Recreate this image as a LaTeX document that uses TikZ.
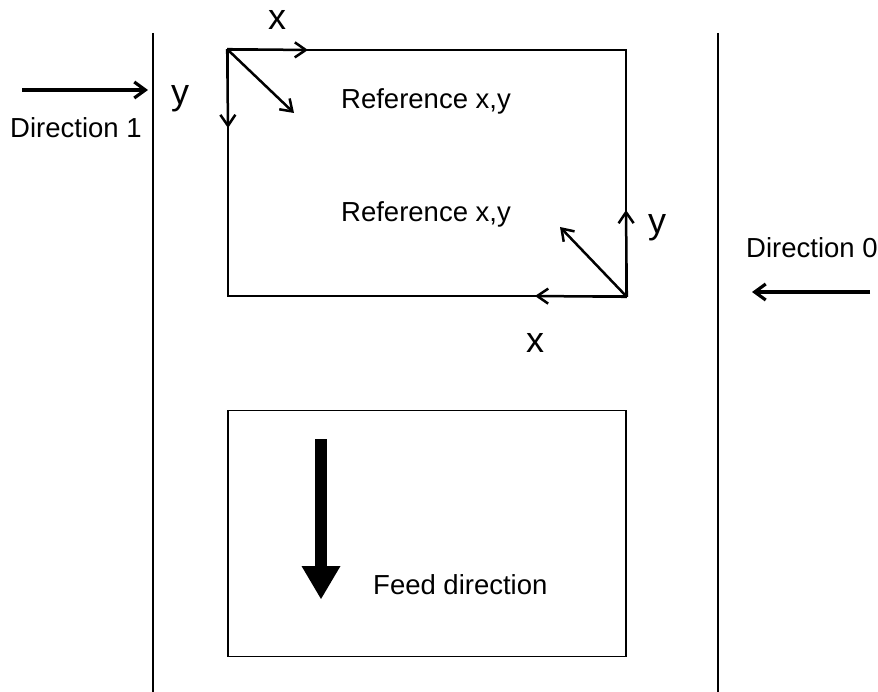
\documentclass[tikz,border=0pt]{standalone}
\usepackage{fontspec}
\setmainfont{Liberation Sans}
\usetikzlibrary{arrows.meta,positioning}
\def\txt#1{\fontsize{#1}{#1}\selectfont}

\begin{document}
\begin{tikzpicture}[x=1pt,y=-1pt,
				every node/.style={inner sep=0pt,anchor=base west},
				lbl/.style={font=\txt{27.5}},
				axlbl/.style={font=\txt{36}},
				sheet/.style={draw,line width=1.6pt,minimum width=398pt,minimum height=246pt,anchor=center},
				axis/.style={line width=2.5pt,-{Straight Barb[length=11pt,width=15pt,line width=2.5pt]}},
				dir/.style={line width=3.2pt,-{Straight Barb[length=11pt,width=16pt,line width=3.2pt]}}]
			\useasboundingbox (0,0) rectangle (878,692);
			\coordinate (railLt) at (153,33);  \coordinate (railLb) at (153,692);
			\coordinate (railRt) at (718,33);  \coordinate (railRb) at (718,692);
			\draw[line width=1.6pt] (railLt) -- (railLb);
			\draw[line width=1.6pt] (railRt) -- (railRb);
			\node[sheet] (ref) at (427,173) {};
			\node[sheet] (feed) at (427,533.5) {};
			% top left reference
			\coordinate (o1) at (ref.north west);
			\coordinate (x1) at (308,50);
			\coordinate (y1) at (228,128);
			\coordinate (d1) at (294,113);
			\draw[axis] (o1) -- (x1);
			\draw[axis] (o1) -- (y1);
			\draw[axis] (o1) -- (d1);
			\node[axlbl] (x1lbl) at (268,30) {x};
			\node[axlbl] (y1lbl) at (171,105) {y};
			% bottom right reference
			\coordinate (o0) at (ref.south east);
			\coordinate (x0) at (535,296);
			\coordinate (y0) at (626,210);
			\coordinate (d0) at (560,227);
			\draw[axis] (o0) -- (x0);
			\draw[axis] (o0) -- (y0);
			\draw[axis] (o0) -- (d0);
			\node[axlbl] (x0lbl) at (526,353) {x};
			\node[axlbl] (y0lbl) at (648,234) {y};
			\node[lbl] (refA) at (341,109) {Reference x,y};
			\node[lbl] (refB) at (341,222) {Reference x,y};
			% directions
			\coordinate (dir1s) at (22,90);  \coordinate (dir1e) at (148,90);
			\coordinate (dir0s) at (870,292); \coordinate (dir0e) at (752,292);
			\draw[dir] (dir1s) -- (dir1e);
			\draw[dir] (dir0s) -- (dir0e);
			\node[lbl] (dir1) at (10,138) {Direction 1};
			\node[lbl] (dir0) at (746,258) {Direction 0};
			% feed
			\coordinate (feedTop) at (321,439);
			\coordinate (feedTip) at (321,599);
			\draw[line width=12pt,-{Triangle[length=33pt,width=39pt,line width=0pt]}] (feedTop) -- (feedTip);
			\node[lbl] (feedlbl) at (373,594) {Feed direction};
		\end{tikzpicture}
\end{document}
